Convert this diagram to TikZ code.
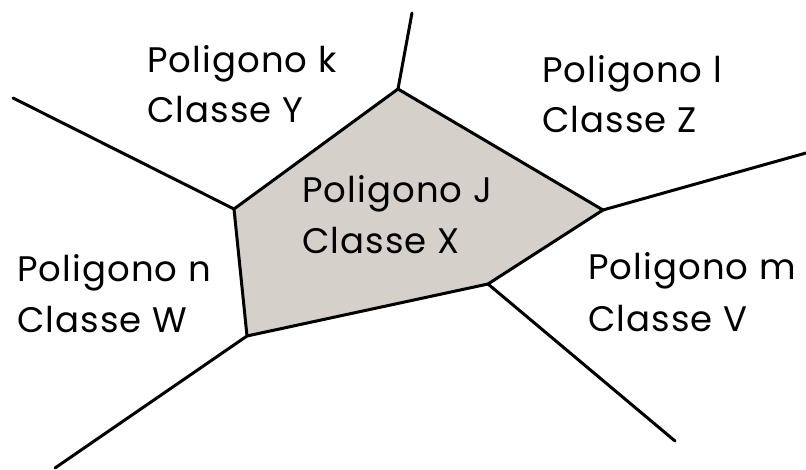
\documentclass[tikz,border=0pt]{standalone}
\usepackage{fontspec}
\setmainfont[LetterSpace=3]{Poppins}
\definecolor{cellgray}{RGB}{213,209,202}
\begin{document}
\begin{tikzpicture}[x=1pt,y=-1pt,
  edge/.style={line width=3pt,line join=round,line cap=round},
  lbl/.style={anchor=base west,inner sep=0pt,font=\fontsize{35.5}{42}\selectfont}]
\useasboundingbox (0,0) rectangle (806,470);
% vertices of the central cell
\coordinate (vt) at (398,89);
\coordinate (vr) at (603,210);
\coordinate (vb) at (488,284);
\coordinate (vbl) at (247,336);
\coordinate (vl) at (234,209);
% free ends of the outer boundaries
\coordinate (et) at (412,13);
\coordinate (er) at (806,153);
\coordinate (ebr) at (675,441);
\coordinate (ebl) at (55,468);
\coordinate (el) at (13,98);
\fill[cellgray] (vt) -- (vr) -- (vb) -- (vbl) -- (vl) -- cycle;
\draw[edge] (vt) -- (vr) -- (vb) -- (vbl) -- (vl) -- cycle;
\draw[edge] (vt) -- (et);
\draw[edge] (vr) -- (er);
\draw[edge] (vb) -- (ebr);
\draw[edge] (vbl) -- (ebl);
\draw[edge] (vl) -- (el);
% labels
\node[lbl] (k1) at (147,73) {Poligono k};
\node[lbl] (k2) at (147,123) {Classe Y};
\node[lbl] (l1) at (542,83) {Poligono l};
\node[lbl] (l2) at (542,133) {Classe Z};
\node[lbl] (j1) at (302,203) {Poligono J};
\node[lbl] (j2) at (302,254) {Classe X};
\node[lbl] (n1) at (17,282) {Poligono n};
\node[lbl] (n2) at (17,333) {Classe W};
\node[lbl] (m1) at (588,280) {Poligono m};
\node[lbl] (m2) at (588,331) {Classe V};
\end{tikzpicture}
\end{document}
